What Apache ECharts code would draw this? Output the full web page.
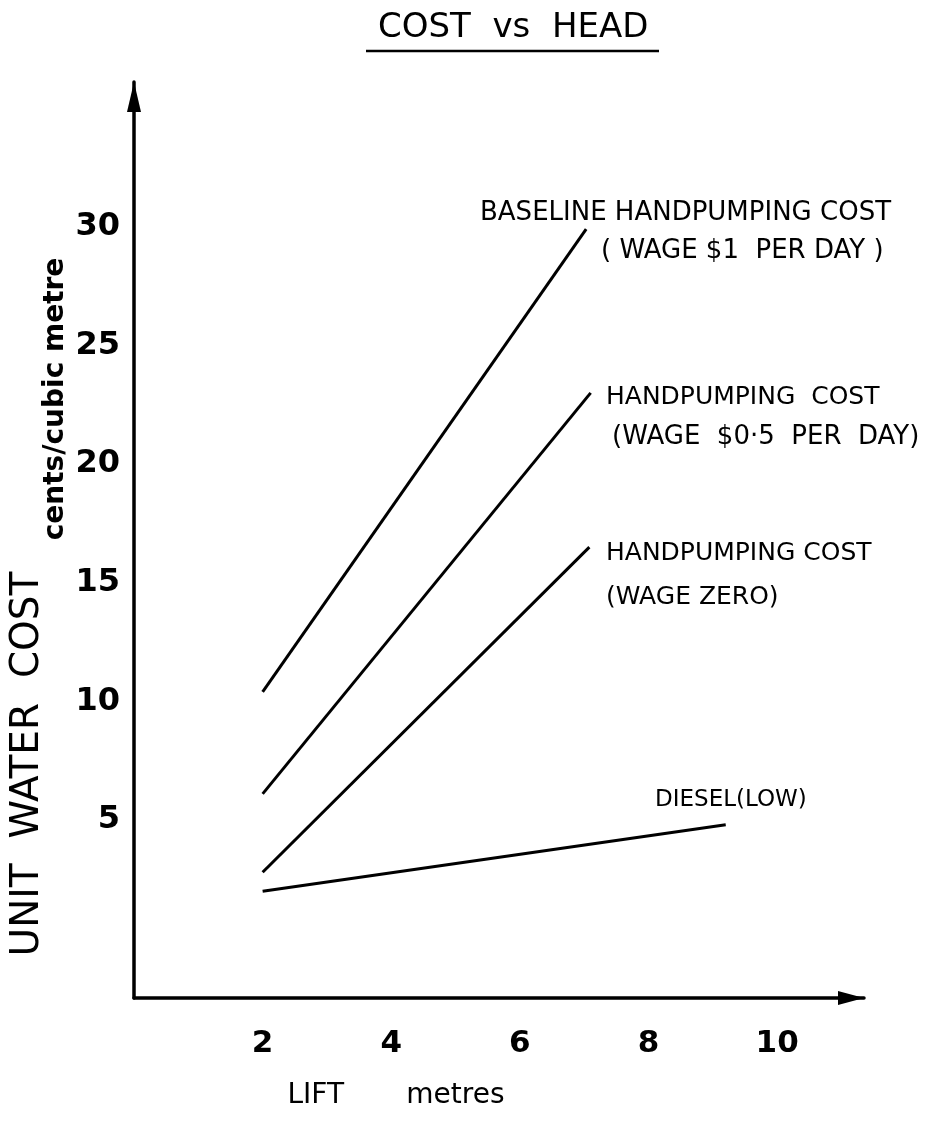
<!DOCTYPE html>
<html>
<head>
<meta charset="utf-8">
<script src="https://cdn.jsdelivr.net/npm/echarts@6/dist/echarts.min.js"></script>
<style>html,body{margin:0;padding:0;background:#fff;}#c{width:940px;height:1128px;}</style>
</head>
<body>
<div id="c"></div>
<script>
// Data (x = lift in metres, y = cents per cubic metre)
const xTicks = [2, 4, 6, 8, 10];
const yTicks = [5, 10, 15, 20, 25, 30];
const baselineX = [2, 7.03];
const baselineY = [10.4, 29.9];
const halfWageX = [2, 7.1];
const halfWageY = [6.1, 23.0];
const zeroWageX = [2, 7.08];
const zeroWageY = [2.8, 16.5];
const dieselX = [2, 9.2];
const dieselY = [2.0, 4.8];

function pairs(xs, ys) { return xs.map((x, i) => [x, ys[i]]); }

const FONT = 'DejaVu Sans';
const chart = echarts.init(document.getElementById('c'), null, {renderer: 'canvas'});
const lineStyle = {color: '#000', width: 3};
function mk(name, xs, ys) {
  return {type: 'line', name: name, data: pairs(xs, ys), symbol: 'none',
          lineStyle: lineStyle, animation: false, silent: true};
}
function txt(x, y, s, size) {
  return {type: 'text', x: x, y: y, style: {text: s, font: size + 'px "DejaVu Sans"', fill: '#000', textVerticalAlign: 'middle'}};
}
chart.setOption({
  backgroundColor: '#fff',
  animation: false,
  title: {text: 'COST  vs  HEAD', left: 373, top: 6,
          textStyle: {fontFamily: FONT, fontSize: 34, fontWeight: 'normal', color: '#000'}},
  grid: {left: 134, right: 76, top: 82, bottom: 130, containLabel: false},
  xAxis: {
    type: 'value', min: 0, max: 11.35,
    axisLine: {show: true, onZero: false, lineStyle: {color: '#000', width: 3.5},
               symbol: ['none', 'triangle'], symbolSize: [14, 26], symbolOffset: [0, -13]},
    axisTick: {show: false}, splitLine: {show: false},
    axisLabel: {customValues: xTicks, margin: 30, color: '#000', fontFamily: FONT, fontSize: 31, fontWeight: 'bold'},
    name: 'LIFT       metres', nameLocation: 'middle', nameGap: 84,
    nameTextStyle: {fontFamily: FONT, fontSize: 28, color: '#000', padding: [0, 206, 0, 0]}
  },
  yAxis: {
    type: 'value', min: -2.5, max: 36.1,
    axisLine: {show: true, onZero: false, lineStyle: {color: '#000', width: 3.5},
               symbol: ['none', 'triangle'], symbolSize: [14, 30], symbolOffset: [0, -15]},
    axisTick: {show: false}, splitLine: {show: false},
    axisLabel: {customValues: yTicks, margin: 14, color: '#000', fontFamily: FONT, fontSize: 32, fontWeight: 'bold'}
  },
  series: [
    mk('Baseline handpumping cost (wage $1 per day)', baselineX, baselineY),
    mk('Handpumping cost (wage $0.5 per day)', halfWageX, halfWageY),
    mk('Handpumping cost (wage zero)', zeroWageX, zeroWageY),
    mk('Diesel (low)', dieselX, dieselY)
  ],
  graphic: [
    {type: 'line', shape: {x1: 366, y1: 51, x2: 659, y2: 51}, style: {stroke: '#000', lineWidth: 2.5}},
    {type: 'text', x: 28, y: 764, rotation: Math.PI / 2,
     style: {text: 'UNIT  WATER  COST', font: '39px "DejaVu Sans"', fill: '#000', textAlign: 'center', textVerticalAlign: 'middle'}},
    {type: 'text', x: 56, y: 399, rotation: Math.PI / 2,
     style: {text: 'cents/cubic metre', font: 'bold 28px "DejaVu Sans"', fill: '#000', textAlign: 'center', textVerticalAlign: 'middle'}},
    txt(480, 213, 'BASELINE HANDPUMPING COST', 26),
    txt(601, 251, '( WAGE $1  PER DAY )', 26),
    txt(606, 397, 'HANDPUMPING  COST', 25),
    txt(612, 437, '(WAGE  $0·5  PER  DAY)', 26),
    txt(606, 553, 'HANDPUMPING COST', 25),
    txt(606, 597, '(WAGE ZERO)', 25),
    txt(655, 800, 'DIESEL(LOW)', 23)
  ]
});
</script>
</body>
</html>
